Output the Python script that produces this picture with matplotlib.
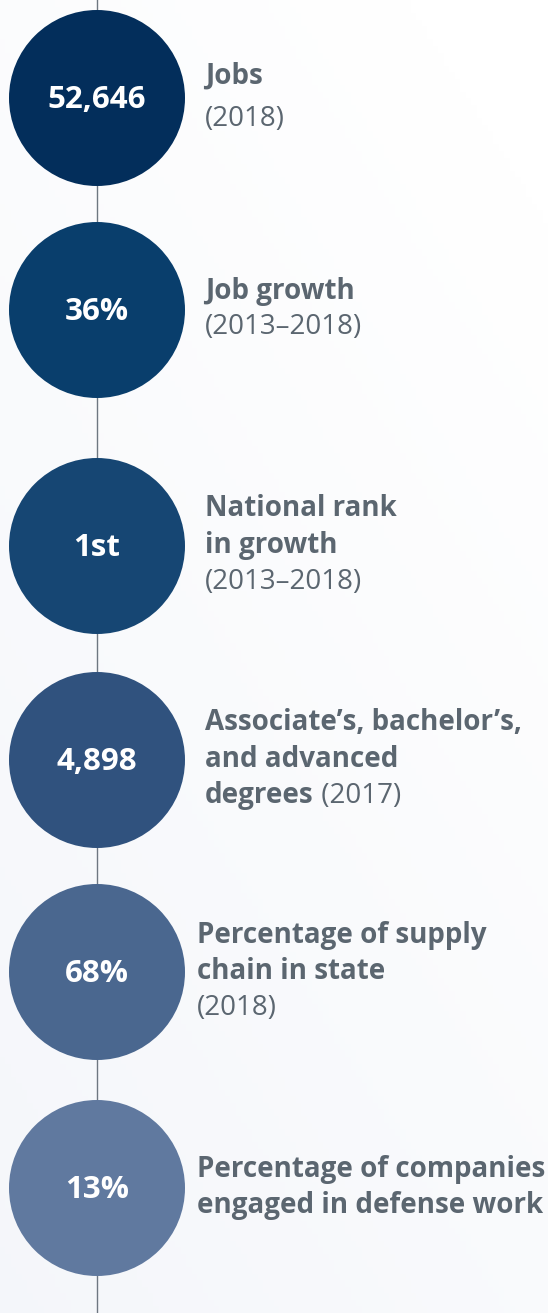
import matplotlib
matplotlib.use("Agg")
import matplotlib.pyplot as plt
import numpy as np
from matplotlib.patches import Circle

# ---- data ----
values = ["52,646", "36%", "1st", "4,898", "68%", "13%"]
titles = [
    "Jobs",
    "Job growth",
    "National rank\nin growth",
    "Associate\u2019s, bachelor\u2019s,\nand advanced\ndegrees",
    "Percentage of supply\nchain in state",
    "Percentage of companies\nengaged in defense work",
]
periods = ["(2018)", "(2013\u20132018)", "(2013\u20132018)", "(2017)", "(2018)", ""]
period_inline = [False, False, False, True, False, False]

# ---- layout / style ----
W, H = 548, 1313
centers_y = [98, 310, 546, 760, 972, 1188]
center_x = 97
radius = 88
text_x = [205, 205, 205, 205, 197, 197]
line_hs = [42, 35.5, 36.5, 36.5, 36.5, 36.5]
circle_colors = ["#032e5b", "#093e6c", "#164673", "#30527e", "#4a678f", "#60799f"]
text_color = "#5b6670"
line_color = "#6e7781"
font = "Open Sans"
fs_label = 20
fs_value = 22.5

fig = plt.figure(figsize=(W / 100, H / 100), dpi=100)
ax = fig.add_axes([0, 0, 1, 1])
ax.set_xlim(0, W)
ax.set_ylim(H, 0)
ax.axis("off")

# subtle background gradient
yy, xx = np.mgrid[0:1:200j, 0:1:100j]
t = np.clip(0.6 * yy + 0.4 * (1 - xx) - 0.1, 0, 1)
top = np.array([1.0, 1.0, 1.0])
bot = np.array([0.955, 0.963, 0.98])
img = top[None, None, :] * (1 - t[..., None]) + bot[None, None, :] * t[..., None]
ax.imshow(img, extent=[0, W, H, 0], aspect="auto", zorder=0)

ax.plot([center_x, center_x], [0, H], color=line_color, lw=1.0, zorder=1)

fig.canvas.draw()
renderer = fig.canvas.get_renderer()
inv = ax.transData.inverted()

for i, v in enumerate(values):
    cy = centers_y[i]
    ax.add_patch(Circle((center_x, cy), radius, facecolor=circle_colors[i],
                        edgecolor="none", zorder=2))
    ax.text(center_x, cy + 2, v, color="white", fontsize=fs_value, fontweight="bold",
            family=font, ha="center", va="center", zorder=3)

    lines = titles[i].split("\n")
    items = [(l, True) for l in lines]
    if periods[i] and not period_inline[i]:
        items.append((periods[i], False))
    n = len(items)
    lh = line_hs[i]
    y0 = cy - 4 - (n - 1) * lh / 2
    for k, (txt, bold) in enumerate(items):
        y = y0 + k * lh
        t1 = ax.text(text_x[i], y, txt, color=text_color, fontsize=fs_label,
                     fontweight="bold" if bold else "normal", family=font,
                     ha="left", va="center_baseline", zorder=3)
        if bold and k == len(lines) - 1 and period_inline[i]:
            bb = t1.get_window_extent(renderer=renderer)
            x_end = inv.transform((bb.x1, bb.y0))[0]
            ax.text(x_end, y, " " + periods[i], color=text_color, fontsize=fs_label,
                    fontweight="normal", family=font, ha="left",
                    va="center_baseline", zorder=3)

fig.savefig("out.png", dpi=100)
